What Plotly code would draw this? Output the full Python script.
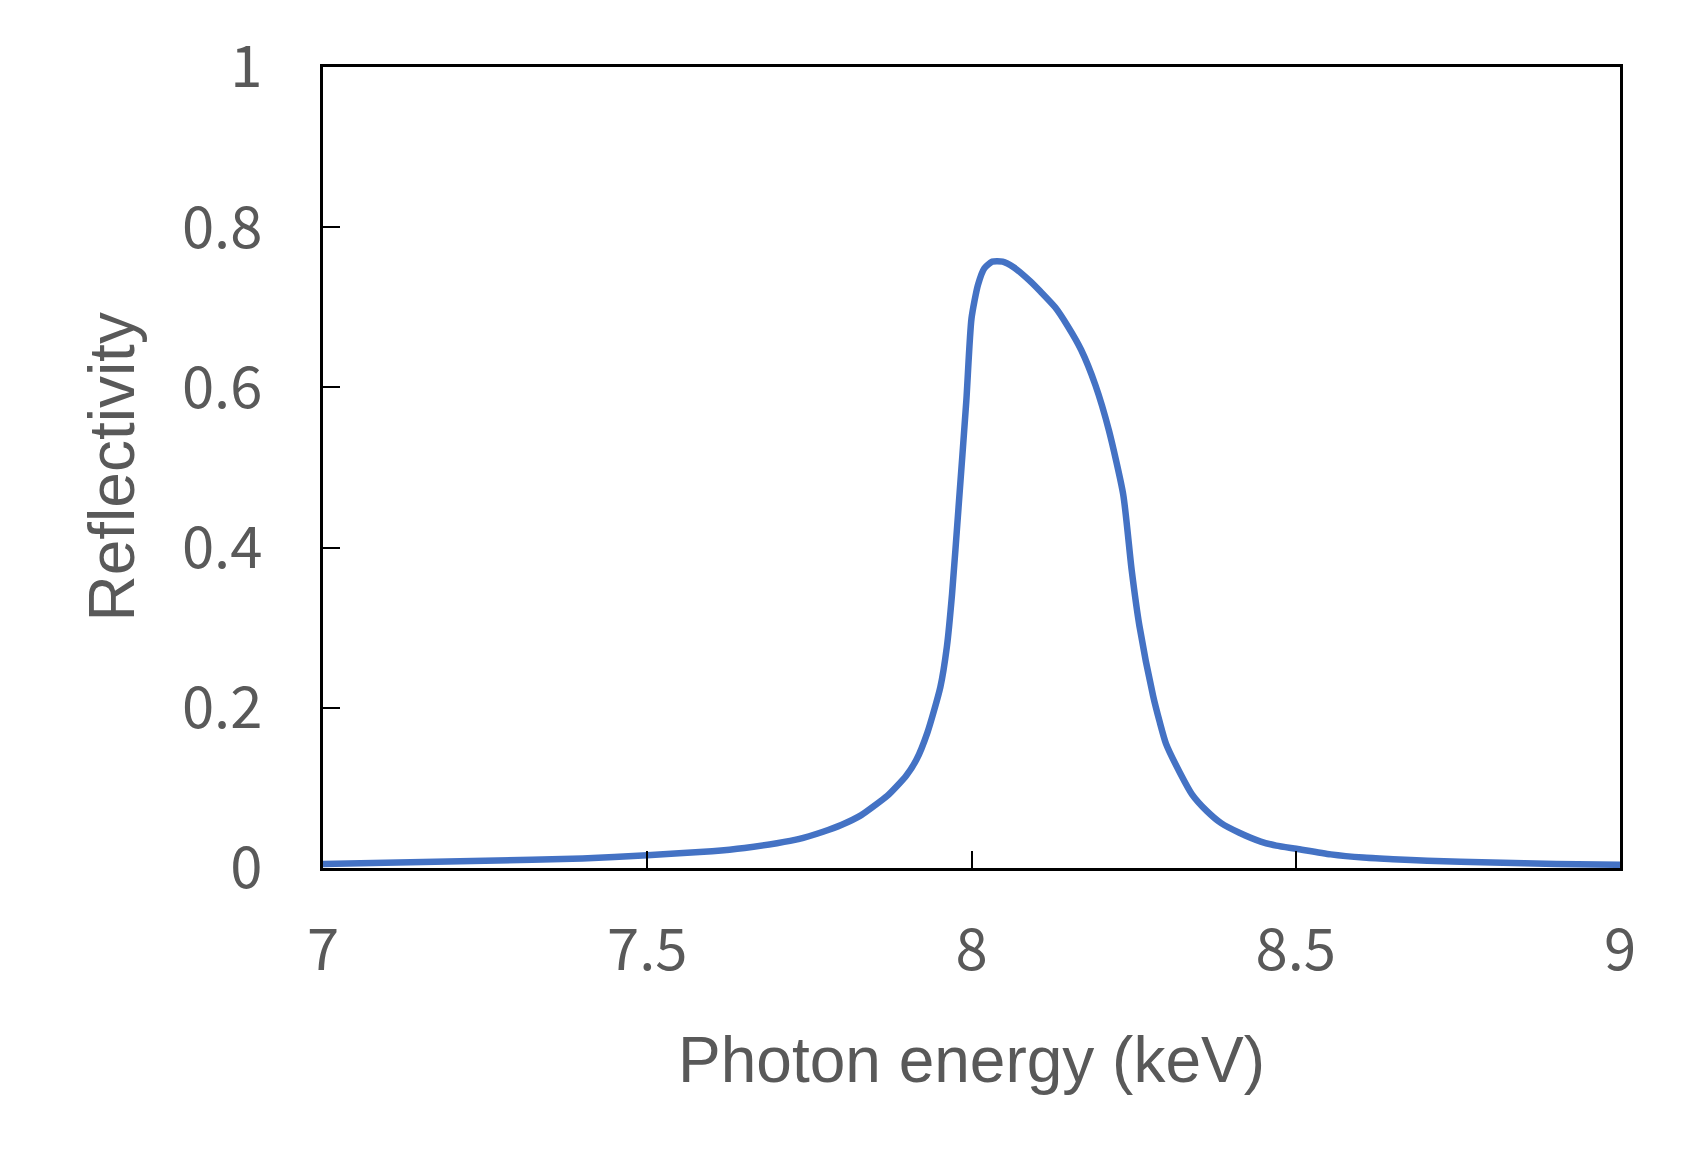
import plotly.graph_objects as go

energy = [7.0, 7.25, 7.4, 7.5, 7.6, 7.65, 7.7, 7.733, 7.77, 7.8, 7.83, 7.849, 7.87, 7.899, 7.915, 7.932,
          7.952, 7.962, 7.970, 7.980, 7.992, 8.0, 8.010, 8.020, 8.032, 8.048, 8.065, 8.090, 8.106,
          8.129, 8.148, 8.169, 8.191, 8.212, 8.234, 8.247, 8.259, 8.280, 8.29, 8.300, 8.322, 8.340,
          8.363, 8.385, 8.413, 8.446, 8.47, 8.501, 8.554, 8.604, 8.65, 8.703, 8.803, 8.902, 9.0]
reflectivity = [0.005, 0.009, 0.012, 0.016, 0.021, 0.025, 0.031, 0.036, 0.045, 0.054, 0.066, 0.077, 0.09,
                0.115, 0.135, 0.169, 0.226, 0.276, 0.342, 0.45, 0.583, 0.686, 0.728, 0.749, 0.757,
                0.757, 0.75, 0.733, 0.72, 0.70, 0.677, 0.647, 0.603, 0.546, 0.466, 0.372, 0.302,
                0.215, 0.183, 0.155, 0.118, 0.092, 0.071, 0.056, 0.044, 0.033, 0.028, 0.024, 0.017,
                0.013, 0.011, 0.009, 0.007, 0.005, 0.004]

x_ticks = [7, 7.5, 8, 8.5, 9]
x_tick_labels = ["7", "7.5", "8", "8.5", "9"]
y_ticks = [0, 0.2, 0.4, 0.6, 0.8, 1]
y_tick_labels = ["0", "0.2", "0.4", "0.6", "0.8", "1"]

x_title = "Photon energy (keV)"
y_title = "Reflectivity"

fig = go.Figure()
fig.add_trace(go.Scatter(x=energy, y=reflectivity, mode="lines",
                         line=dict(color="#4472C4", width=6.5, shape="spline", smoothing=0.6),
                         showlegend=False))

tick_font = dict(family="Noto Sans CJK JP", size=58, color="#595959")
title_font = dict(family="Liberation Sans, Arial", size=64, color="#595959")

L, T, R, B = 315, 57, 1612, 860  # plot area in figure pixels
W, H = 1689, 1170

fig.update_layout(
    width=W, height=H,
    margin=dict(l=L, r=W - R, t=T, b=H - B),
    plot_bgcolor="white", paper_bgcolor="white",
    xaxis=dict(range=[7, 9], tickvals=x_ticks, ticktext=x_tick_labels,
               showgrid=False, zeroline=False, showline=True, linecolor="black", linewidth=3,
               mirror=True, ticks="inside", ticklen=17, tickwidth=2, tickcolor="black",
               tickfont=tick_font, ticklabelstandoff=29),
    yaxis=dict(range=[0, 1], tickvals=y_ticks, ticktext=y_tick_labels,
               showgrid=False, zeroline=False, showline=True, linecolor="black", linewidth=3,
               mirror=True, ticks="inside", ticklen=17, tickwidth=2, tickcolor="black",
               tickfont=tick_font, ticklabelstandoff=46),
    annotations=[
        dict(text=x_title, xref="paper", yref="paper", x=0.5, y=(B - 1052) / (B - T),
             xanchor="center", yanchor="middle", showarrow=False, font=title_font),
        dict(text=y_title, xref="paper", yref="paper", x=(103 - L) / (R - L), y=0.5,
             xanchor="center", yanchor="middle", showarrow=False, font=title_font, textangle=-90),
    ],
)

fig.write_html("out.html")
